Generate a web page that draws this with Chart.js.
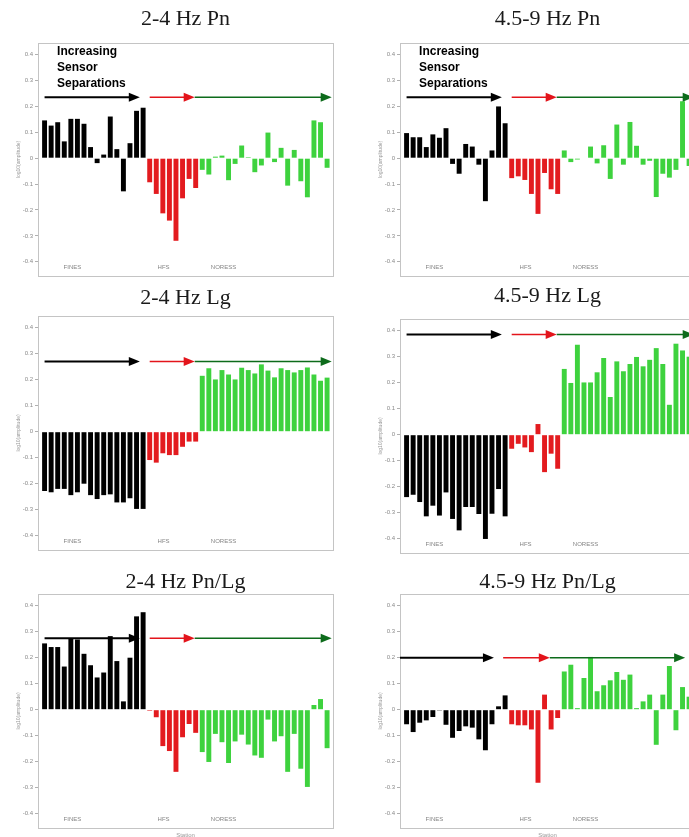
<!DOCTYPE html>
<html lang="en">
<head>
<meta charset="UTF-8">
<title>Sensor separation amplitude ratios</title>
<script src="https://cdn.jsdelivr.net/npm/chart.js"></script>
<style>
  html, body { margin: 0; padding: 0; background: #fff; overflow: hidden; width: 689px; height: 837px; }
  canvas { position: absolute; }
</style>
</head>
<body>
<canvas id="c0" width="345" height="282" style="left:0;top:0"></canvas>
<canvas id="c1" width="345" height="282" style="left:362px;top:0"></canvas>
<canvas id="c2" width="345" height="283" style="left:0;top:273px"></canvas>
<canvas id="c3" width="345" height="283" style="left:362px;top:276px"></canvas>
<canvas id="c4" width="345" height="289" style="left:0;top:551px"></canvas>
<canvas id="c5" width="345" height="289" style="left:362px;top:551px"></canvas>

<script>
// station groups, in order along the x axis
const groups = ['FINES', 'HFS', 'NORESS'];
const groupSizes = [16, 8, 20];
const titles = ['2-4 Hz Pn', '4.5-9 Hz Pn', '2-4 Hz Lg', '4.5-9 Hz Lg', '2-4 Hz Pn/Lg', '4.5-9 Hz Pn/Lg'];
const yTicks = [-0.4, -0.3, -0.2, -0.1, 0, 0.1, 0.2, 0.3, 0.4];
const arrowLevels = [0.235, 0.235, 0.27, 0.385, 0.275, 0.2];
const noteLines = ['Increasing', 'Sensor', 'Separations'];

// log10(amplitude) per station
const pn24 = [0.146, 0.126, 0.139, 0.065, 0.152, 0.152, 0.133, 0.043, -0.019, 0.014, 0.161, 0.035, -0.128, 0.058, 0.183, 0.195,
  -0.093, -0.138, -0.213, -0.241, -0.319, -0.155, -0.08, -0.115,
  -0.045, -0.063, 0.006, 0.01, -0.085, -0.022, 0.049, 0.004, -0.054, -0.028, 0.099, -0.015, 0.04, -0.106, 0.032, -0.089, -0.151, 0.146, 0.139, -0.037];
const pn459 = [0.097, 0.081, 0.081, 0.043, 0.092, 0.079, 0.116, -0.022, -0.06, 0.055, 0.045, -0.025, -0.166, 0.03, 0.2, 0.135,
  -0.077, -0.07, -0.084, -0.138, -0.215, -0.057, -0.12, -0.138,
  0.03, -0.015, -0.005, -0.002, 0.045, -0.02, 0.05, -0.08, 0.13, -0.025, 0.14, 0.048, -0.025, -0.01, -0.15, -0.06, -0.075, -0.045, 0.22, -0.03];
const lg24 = [-0.228, -0.233, -0.22, -0.22, -0.244, -0.233, -0.2, -0.244, -0.259, -0.244, -0.241, -0.272, -0.272, -0.256, -0.297, -0.297,
  -0.109, -0.119, -0.083, -0.09, -0.09, -0.058, -0.038, -0.038,
  0.215, 0.244, 0.201, 0.237, 0.22, 0.201, 0.246, 0.237, 0.224, 0.259, 0.235, 0.209, 0.244, 0.237, 0.228, 0.237, 0.247, 0.22, 0.196, 0.208];
const lg459 = [-0.24, -0.231, -0.259, -0.314, -0.273, -0.311, -0.222, -0.324, -0.368, -0.278, -0.278, -0.305, -0.401, -0.304, -0.209, -0.314,
  -0.054, -0.035, -0.049, -0.067, 0.041, -0.144, -0.073, -0.131,
  0.253, 0.199, 0.346, 0.201, 0.201, 0.24, 0.295, 0.145, 0.282, 0.244, 0.272, 0.299, 0.263, 0.288, 0.333, 0.272, 0.115, 0.35, 0.324, 0.3];
const pnlg24 = [0.255, 0.241, 0.241, 0.166, 0.273, 0.27, 0.215, 0.171, 0.124, 0.143, 0.283, 0.187, 0.032, 0.2, 0.359, 0.375,
  -0.004, -0.029, -0.14, -0.159, -0.239, -0.106, -0.055, -0.089,
  -0.163, -0.201, -0.093, -0.125, -0.205, -0.122, -0.096, -0.134, -0.176, -0.185, -0.038, -0.122, -0.102, -0.239, -0.093, -0.227, -0.297, 0.018, 0.041, -0.148];
const pnlg459 = [-0.056, -0.086, -0.05, -0.041, -0.028, -0.003, -0.058, -0.108, -0.082, -0.064, -0.069, -0.114, -0.156, -0.056, 0.013, 0.055,
  -0.056, -0.06, -0.06, -0.076, -0.281, 0.058, -0.076, -0.032,
  0.147, 0.173, 0.006, 0.122, 0.203, 0.071, 0.094, 0.113, 0.145, 0.115, 0.135, 0.006, 0.032, 0.058, -0.135, 0.058, 0.168, -0.079, 0.087, 0.05];

const barColors = ['#000000', '#e31b1f', '#3ed23e'];
const arrowColors = ['#000000', '#e3141b', '#0d6b1b'];

const arrowsStd = [[0, 14.5], [16, 22.85], [22.85, 43.7]];
const arrowsShift = [[-1, 13.3], [14.7, 21.8], [21.8, 42.4]];
const labelX = [2.9, 17.2, 25.3];

const panels = {
  c0: { title: titles[0], values: pn24, arrowY: arrowLevels[0], arrows: arrowsStd, note: true, pad: { top: 8.5, bottom: 12.5 }, bottomH: 6, station: false },
  c1: { title: titles[1], values: pn459, arrowY: arrowLevels[1], arrows: arrowsStd, note: true, pad: { top: 8.5, bottom: 12.5 }, bottomH: 6, station: false },
  c2: { title: titles[2], values: lg24, arrowY: arrowLevels[2], arrows: arrowsStd, note: false, pad: { top: 14, bottom: 7 }, bottomH: 6, station: false },
  c3: { title: titles[3], values: lg459, arrowY: arrowLevels[3], arrows: arrowsStd, note: false, pad: { top: 9.5, bottom: 11.5 }, bottomH: 6, station: false },
  c4: { title: titles[4], values: pnlg24, arrowY: arrowLevels[4], arrows: arrowsStd, note: false, pad: { top: 20.5, bottom: 0.5 }, bottomH: 12, station: true },
  c5: { title: titles[5], values: pnlg459, arrowY: arrowLevels[5], arrows: arrowsShift, note: false, pad: { top: 20.5, bottom: 0.5 }, bottomH: 12, station: true }
};

const annotate = {
  id: 'annotate',
  afterDatasetsDraw(chart) {
    const p = panels[chart.canvas.id];
    const ctx = chart.ctx;
    const x = chart.scales.x, y = chart.scales.y;
    ctx.save();
    const yy = y.getPixelForValue(p.arrowY);
    p.arrows.forEach((seg, g) => {
      const x0 = x.getPixelForValue(seg[0]);
      const x1 = x.getPixelForValue(seg[1]);
      ctx.strokeStyle = arrowColors[g];
      ctx.fillStyle = arrowColors[g];
      ctx.lineWidth = g === 0 ? 2 : 1.5;
      ctx.beginPath();
      ctx.moveTo(x0, yy);
      ctx.lineTo(x1 - 6, yy);
      ctx.stroke();
      ctx.beginPath();
      ctx.moveTo(x1, yy);
      ctx.lineTo(x1 - 11, yy - 4.5);
      ctx.lineTo(x1 - 11, yy + 4.5);
      ctx.closePath();
      ctx.fill();
    });
    ctx.font = '6px "Liberation Sans"';
    ctx.fillStyle = '#858585';
    ctx.textBaseline = 'middle';
    groups.forEach((g, i) => ctx.fillText(g, x.getPixelForValue(labelX[i]), y.getPixelForValue(-0.42)));
    if (p.note) {
      ctx.font = 'bold 12px "Liberation Sans"';
      ctx.fillStyle = '#000';
      const ys = [0.41, 0.348, 0.287];
      noteLines.forEach((t, i) => ctx.fillText(t, x.getPixelForValue(1.9), y.getPixelForValue(ys[i])));
    }
    ctx.restore();
  }
};

function makeChart(id) {
  const p = panels[id];
  const colors = [];
  groupSizes.forEach((n, g) => {
    for (let j = 0; j < n; j++) colors.push(barColors[g]);
  });
  const frame = { color: '#c4c4c4', width: 1 };
  new Chart(document.getElementById(id), {
    type: 'bar',
    data: {
      datasets: [{
        data: p.values.map((v, i) => ({ x: i, y: v })),
        backgroundColor: colors,
        borderWidth: 0,
        barPercentage: 0.75,
        categoryPercentage: 1
      }]
    },
    options: {
      responsive: false,
      animation: false,
      events: [],
      devicePixelRatio: 1,
      layout: { padding: 0 },
      plugins: {
        legend: { display: false },
        tooltip: { enabled: false },
        title: {
          display: true,
          text: p.title,
          fullSize: false,
          color: '#1a1a1a',
          font: { family: 'Liberation Serif', size: 22, weight: 'normal', lineHeight: 1 },
          padding: p.pad
        }
      },
      scales: {
        x: {
          type: 'linear', position: 'bottom', min: -1, max: 43.9, offset: false,
          grid: { display: false, offset: false },
          border: { color: frame.color, dash: [3, 2] },
          ticks: { display: false },
          title: { display: p.station, text: 'Station', color: '#999', font: { size: 6, family: 'Liberation Sans' }, padding: { top: 0, bottom: 1 } },
          afterFit: s => { s.height = p.bottomH; }
        },
        x2: {
          type: 'linear', position: 'top', min: -1, max: 43.9, offset: false,
          grid: { display: false, offset: false },
          border: { color: frame.color, dash: [3, 2] },
          ticks: { display: false },
          afterFit: s => { s.height = 0; }
        },
        y: {
          min: -0.455, max: 0.445,
          afterBuildTicks: s => { s.ticks = yTicks.map(v => ({ value: v })); },
          ticks: {
            color: '#8a8a8a', padding: 2,
            font: { size: 6, family: 'Liberation Sans' },
            callback: v => String(Math.round(v * 10) / 10)
          },
          grid: { drawOnChartArea: false, tickLength: 3, color: '#b0b0b0' },
          border: { color: frame.color },
          title: { display: true, text: 'log10(amplitude)', color: '#9a9a9a', font: { size: 5, family: 'Liberation Sans' }, padding: { top: 16, bottom: 0 } },
          afterFit: s => { s.width = 38; }
        },
        y2: {
          position: 'right', min: -0.455, max: 0.445,
          grid: { display: false },
          ticks: { display: false },
          border: { color: frame.color },
          afterFit: s => { s.width = 12; }
        }
      }
    },
    plugins: [annotate]
  });
}

Object.keys(panels).forEach(makeChart);
</script>
</body>
</html>
